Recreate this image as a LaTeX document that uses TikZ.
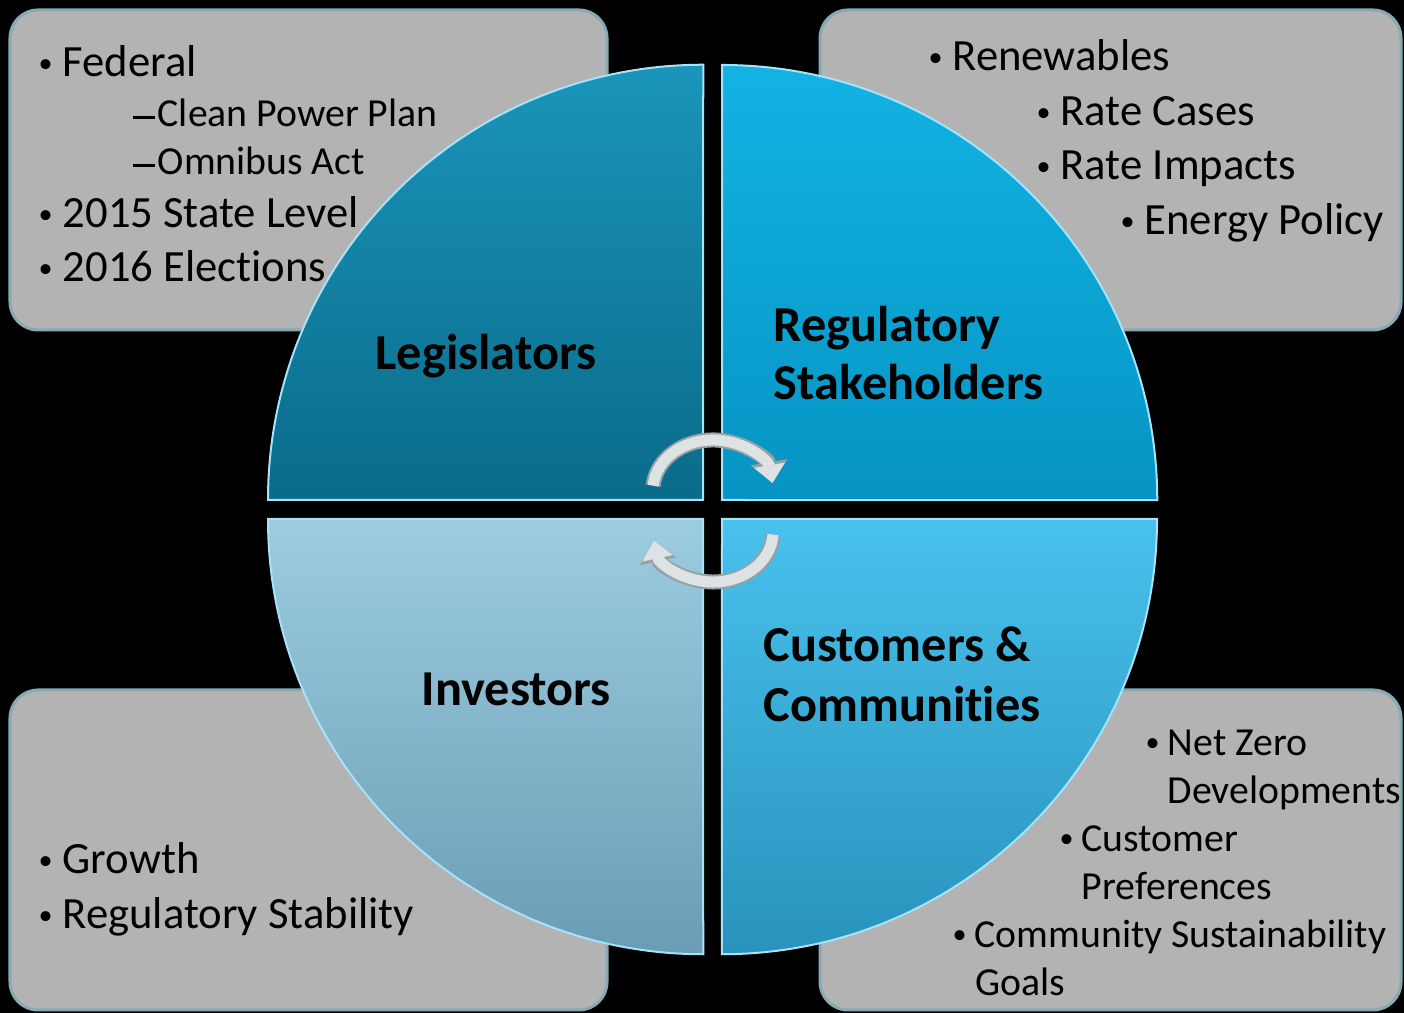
\documentclass[tikz,border=0pt]{standalone}
\usepackage{fontspec}
\setmainfont{Carlito}[Ligatures=NoCommon]
\usepackage{tikz}
\usetikzlibrary{arrows.meta}
\definecolor{boxgray}{HTML}{B3B3B3}
\definecolor{boxrim}{HTML}{86A9B4}
\definecolor{tlTop}{HTML}{1A95BA}
\definecolor{tlBot}{HTML}{0A6B8A}
\definecolor{trTop}{HTML}{12B3E3}
\definecolor{trBot}{HTML}{0694C4}
\definecolor{blTop}{HTML}{9DCCE0}
\definecolor{blBot}{HTML}{6A9DB5}
\definecolor{brTop}{HTML}{48C1EC}
\definecolor{brBot}{HTML}{2893BD}
\definecolor{arrowfill}{HTML}{DDE2E5}
\definecolor{arrowrim}{HTML}{97A0A6}
\newcommand\dotmark{\raisebox{1.3pt}{\fontsize{8}{8}\selectfont •}}
\newcommand\bul{\makebox[0.24cm][l]{\dotmark}}
\newcommand\bulb{\makebox[0.22cm][l]{\dotmark}}
\newcommand\subdash{\makebox[0.25cm][l]{\rule[2.4pt]{0.22cm}{0.8pt}}}
\tikzset{
  panel/.style={fill=boxgray, draw=boxrim, line width=0.03cm, rounded corners=0.28cm},
  quad/.style={draw=cyan!35!white, line width=0.02cm},
  txt/.style={anchor=base west, inner sep=0pt, font=\fontsize{12.7}{15}\selectfont},
  subtxt/.style={anchor=base west, inner sep=0pt, font=\fontsize{11.3}{13}\selectfont},
  title/.style={anchor=base west, inner sep=0pt, font=\fontsize{14.3}{17}\selectfont\bfseries}
}
\begin{document}
\begin{tikzpicture}[x=0.01cm,y=0.01cm]
	\fill[black] (0,0) rectangle (1404,1013);
	\useasboundingbox (0,0) rectangle (1404,1013);
	% grey panels
	\path[panel] (10,683) rectangle (607,1003);
	\path[panel] (820,683) rectangle (1401,1003);
	\path[panel] (10,3) rectangle (607,323);
	\path[panel] (820,3) rectangle (1401,323);
	% four quarters
	\path[quad, top color=tlTop, bottom color=tlBot] (703,513) -- (268,513) arc[start angle=180, end angle=90, radius=4.35cm] -- cycle;
	\path[quad, top color=trTop, bottom color=trBot] (722,513) -- (722,948) arc[start angle=90, end angle=0, radius=4.35cm] -- cycle;
	\path[quad, top color=blTop, bottom color=blBot] (703,494) -- (268,494) arc[start angle=180, end angle=270, radius=4.35cm] -- cycle;
	\path[quad, top color=brTop, bottom color=brBot] (722,494) -- (1157,494) arc[start angle=0, end angle=-90, radius=4.35cm] -- cycle;
	% round arrows
	\draw[arrowrim, line width=0.15cm, -{Triangle[width=0.36cm,length=0.21cm]}] (713,523) ++(175:0.6cm and 0.5cm) arc[start angle=175, end angle=8, x radius=0.6cm, y radius=0.5cm];
	\draw[arrowfill, line width=0.11cm, -{Triangle[width=0.3cm,length=0.18cm]}] (713,523) ++(175:0.6cm and 0.5cm) arc[start angle=175, end angle=8, x radius=0.6cm, y radius=0.5cm];
	\draw[arrowrim, line width=0.15cm, -{Triangle[width=0.36cm,length=0.21cm]}] (713,481) ++(-3:0.6cm and 0.5cm) arc[start angle=-3, end angle=-170, x radius=0.6cm, y radius=0.5cm];
	\draw[arrowfill, line width=0.11cm, -{Triangle[width=0.3cm,length=0.18cm]}] (713,481) ++(-3:0.6cm and 0.5cm) arc[start angle=-3, end angle=-170, x radius=0.6cm, y radius=0.5cm];
	% titles
	\path (375,643) node(leg)[title] {Legislators}
		(773,671) node(reg)[title] {Regulatory}
		(773,613) node(stk)[title] {Stakeholders}
		(421,307) node(inv)[title] {Investors}
		(763,351) node(cus)[title] {Customers \&}
		(763,291) node(com)[title] {Communities};
	% top left panel
	\path (38,936) node(fed)[txt] {\bul Federal}
		(132,886) node(cpp)[subtxt] {\subdash Clean Power Plan}
		(132,838) node(omni)[subtxt] {\subdash Omnibus Act}
		(38,785) node(st15)[txt] {\bul 2015 State Level}
		(38,731) node(el16)[txt] {\bul 2016 Elections};
	% top right panel
	\path (928,942) node(renew)[txt] {\bul Renewables}
		(1036,887) node(rcase)[txt] {\bul Rate Cases}
		(1036,833) node(rimp)[txt] {\bul Rate Impacts}
		(1120,778) node(epol)[txt] {\bul Energy Policy};
	% bottom left panel
	\path (38,139) node(grow)[txt] {\bul Growth}
		(38,84) node(rstab)[txt] {\bul Regulatory Stability};
	% bottom right panel
	\path (1145,257) node(nz)[subtxt] {\bulb Net Zero}
		(1167,209) node(nzb)[subtxt] {Developments}
		(1059,161) node(cpr)[subtxt] {\bulb Customer}
		(1081,113) node(cprb)[subtxt] {Preferences}
		(952,65) node(csg)[subtxt] {\bulb Community Sustainability}
		(975,17) node(csgb)[subtxt] {Goals};
\end{tikzpicture}
\end{document}
